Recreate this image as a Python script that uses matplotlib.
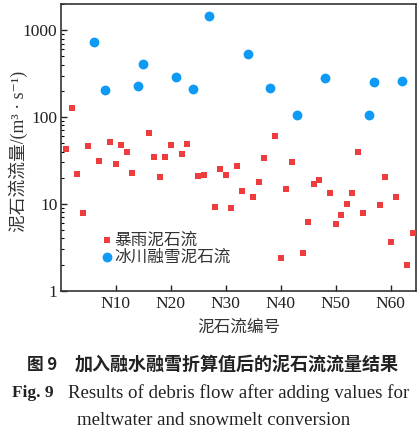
import matplotlib
matplotlib.use("Agg")
import matplotlib.pyplot as plt
from matplotlib.ticker import LogLocator, NullFormatter

plt.rcParams['font.family'] = ['Liberation Serif', 'Noto Sans CJK SC', 'DejaVu Sans']

# Rainstorm debris flows (index, discharge)
rain_idx = [1, 2, 3, 4, 5, 7, 9, 10, 11, 12, 13, 16, 17, 18, 19, 20, 22, 23, 25, 26,
            28, 29, 30, 31, 32, 33, 35, 36, 37, 39, 40, 41, 42, 44, 45, 46, 47, 49,
            50, 51, 52, 53, 54, 55, 58, 59, 60, 61, 63, 64]
rain_q = [42.5, 126, 21.9, 7.8, 46, 31, 51, 28.6, 47.3, 39.3, 22.5, 65, 34.4, 20.3, 34.4,
          47.3, 37.2, 48.5, 20.8, 21.4, 9.1, 25, 21.4, 8.85, 27.1, 14, 11.9, 17.7, 33.5,
          60, 2.36, 15, 30.1, 2.69, 6.1, 16.7, 19, 13.2, 5.8, 7.36, 10, 13.2, 39.3, 7.76,
          9.8, 20.3, 3.6, 11.9, 1.96, 4.57]

# Glacier/snowmelt debris flows
melt_idx = [6, 8, 14, 15, 21, 24, 27, 34, 38, 43, 48, 56, 57, 62]
melt_q = [738, 204, 225, 408, 288, 210, 1468, 532, 214, 105, 279, 106, 250, 263]

xticks = [10, 20, 30, 40, 50, 60]
xticklabels = ['N10', 'N20', 'N30', 'N40', 'N50', 'N60']
yticks = [1, 10, 100, 1000]
yticklabels = ['1', '10', '100', '1000']

fig = plt.figure(figsize=(4.2, 4.44), dpi=100)
ax = fig.add_axes([0.1452, 0.3453, 0.8453, 0.6457])

ax.scatter(rain_idx, rain_q, marker='s', s=13, color='#F03C3C', linewidths=0,
           label='暴雨泥石流', zorder=3)
ax.scatter(melt_idx, melt_q, marker='o', s=50, color='#0F9BF5', linewidths=0,
           label='冰川融雪泥石流', zorder=3)

ax.set_yscale('log')
ax.set_xlim(0, 64.6)
ax.set_ylim(1, 2000)
ax.set_xticks(xticks)
ax.set_xticklabels(xticklabels)
ax.set_yticks(yticks)
ax.set_yticklabels(yticklabels)
ax.yaxis.set_minor_locator(LogLocator(base=10, subs=range(2, 10)))
ax.yaxis.set_minor_formatter(NullFormatter())
ax.tick_params(axis='both', which='major', direction='in', length=4, width=1,
               labelsize=12.5, colors='#222222')
ax.tick_params(axis='x', which='major', pad=4)
ax.tick_params(axis='y', which='major', pad=2.5)
ax.tick_params(axis='y', which='minor', direction='in', length=2.5, width=0.8)
ax.tick_params(axis='x', which='minor', bottom=False)
for sp in ax.spines.values():
    sp.set_color('#333333')
    sp.set_linewidth(1.2)

ax.set_xlabel('泥石流编号', fontsize=12, family=['Noto Sans CJK SC'], color='#333333',
              labelpad=5)
ax.set_ylabel('泥石流流量/(m³ · s⁻¹)', fontsize=12.8,
              family=['Liberation Serif', 'Noto Sans CJK SC', 'DejaVu Sans'], color='#333333')
ax.yaxis.set_label_coords(-0.094, 0.485)

leg = ax.legend(loc='lower left', bbox_to_anchor=(0.098, 0.065), frameon=False,
                prop={'family': 'Noto Sans CJK SC', 'size': 12}, handletextpad=0.12,
                labelspacing=0.0, borderaxespad=0, handlelength=0.6)
for t in leg.get_texts():
    t.set_color('#333333')

fig.text(0.064, 1 - 365 / 444, '图 9', fontsize=12, family=['Noto Sans CJK SC'],
         weight='bold', va='center', ha='left', color='#222222')
fig.text(0.178, 1 - 365 / 444, '加入融水融雪折算值后的泥石流流量结果', fontsize=13,
         family=['Noto Sans CJK SC'], weight='bold', va='center', ha='left', color='#222222')
fig.text(0.028, 1 - 393 / 444, 'Fig. 9', fontsize=12.5, family=['Liberation Serif'],
         weight='bold', va='center', ha='left', color='#222222')
fig.text(0.162, 1 - 393 / 444, 'Results of debris flow after adding values for',
         fontsize=13.6, family=['Liberation Serif'], va='center', ha='left', color='#222222')
fig.text(0.183, 1 - 420 / 444, 'meltwater and snowmelt conversion',
         fontsize=13.6, family=['Liberation Serif'], va='center', ha='left', color='#222222')

fig.savefig('out.png', dpi=100)
